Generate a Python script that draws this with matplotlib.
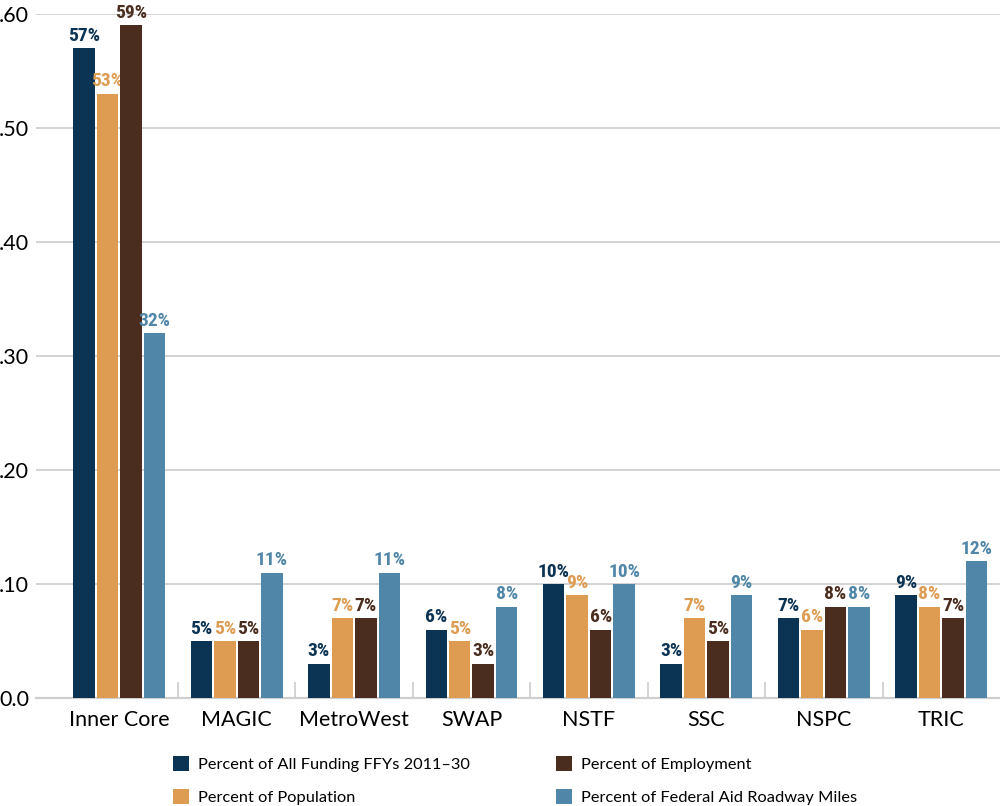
import numpy as np
import matplotlib
matplotlib.use('Agg')
import matplotlib.pyplot as plt
from matplotlib.patches import Patch
from matplotlib.ticker import FixedLocator

regions = ['Inner Core', 'MAGIC', 'MetroWest', 'SWAP', 'NSTF', 'SSC', 'NSPC', 'TRIC']
funding = [0.57, 0.05, 0.03, 0.06, 0.10, 0.03, 0.07, 0.09]
population = [0.53, 0.05, 0.07, 0.05, 0.09, 0.07, 0.06, 0.08]
employment = [0.59, 0.05, 0.07, 0.03, 0.06, 0.05, 0.08, 0.07]
roadway = [0.32, 0.11, 0.11, 0.08, 0.10, 0.09, 0.08, 0.12]

series_names = ['Percent of All Funding FFYs 2011\u201330', 'Percent of Population',
                'Percent of Employment', 'Percent of Federal Aid Roadway Miles']
colors = ['#0b3353', '#de9b52', '#4b2d1f', '#5087a8']

y_ticks = [0.0, 0.1, 0.2, 0.3, 0.4, 0.5, 0.6]
y_labels = ['0.0', '.10', '.20', '.30', '.40', '.50', '.60']

text_font = ['Lato', 'DejaVu Sans']
label_font = ['Roboto Condensed', 'Lato', 'DejaVu Sans']

fig = plt.figure(figsize=(10, 8.06), dpi=100)
ax = fig.add_axes([0.036, 0.134, 0.964, 0.8486])

x = np.arange(len(regions))
width = 0.183
offsets = [-0.3, -0.1, 0.1, 0.3]
all_series = [funding, population, employment, roadway]

for vals, off, col in zip(all_series, offsets, colors):
    bars = ax.bar(x + off, vals, width, color=col, edgecolor='none', zorder=3)
    for b, v in zip(bars, vals):
        ax.text(b.get_x() + b.get_width() / 2, v + 0.003, f'{round(v * 100)}%',
                ha='center', va='bottom', color=col, fontsize=14,
                fontweight='heavy', family=label_font, clip_on=False)

ax.set_xlim(-0.708, 7.5)
ax.set_ylim(0, 0.6)

ax.set_yticks(y_ticks)
ax.set_yticklabels(y_labels, family=text_font, fontsize=15.5)
ax.yaxis.grid(True, color='#d3d3d3', linewidth=1.4, zorder=0)
ax.tick_params(axis='y', length=0, pad=5)

ax.set_xticks(x)
ax.set_xticklabels(regions, family=text_font, fontsize=15.5)
ax.tick_params(axis='x', which='major', length=0, pad=9)
ax.xaxis.set_minor_locator(FixedLocator(np.arange(0.5, 7, 1.0)))
ax.tick_params(axis='x', which='minor', direction='in', length=11.5,
               color='#d3d3d3', width=1.4)

for side in ['top', 'right', 'left']:
    ax.spines[side].set_visible(False)
ax.spines['bottom'].set_color('#cfcfcf')
ax.spines['bottom'].set_linewidth(1.6)

handles = [Patch(facecolor=c, edgecolor='none', label=n) for c, n in zip(colors, series_names)]
leg_kw = dict(frameon=False, prop={'family': text_font, 'size': 11.8},
              handlelength=1.0, handleheight=1.0, handletextpad=0.55,
              labelspacing=1.05, borderpad=0, borderaxespad=0)
fig.legend(handles=handles[:2], loc='upper left',
           bbox_to_anchor=(0.173, 0.062), **leg_kw)
fig.legend(handles=handles[2:], loc='upper left',
           bbox_to_anchor=(0.556, 0.062), **leg_kw)

fig.savefig('out.png', dpi=100)
